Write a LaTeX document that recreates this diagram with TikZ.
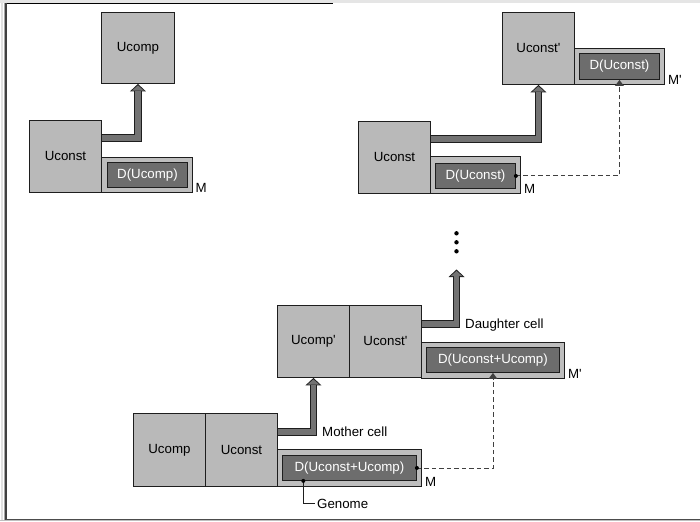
\documentclass[tikz,border=0pt]{standalone}
\usepackage{fontspec}
\setmainfont{Liberation Sans}
\usetikzlibrary{arrows.meta,calc,backgrounds}
\definecolor{cellfill}{HTML}{B9B9B9}
\definecolor{memfill}{HTML}{BEBEBE}
\definecolor{dnafill}{HTML}{6D6D6D}
\definecolor{pipefill}{HTML}{737373}
\definecolor{edge}{HTML}{1E1E1E}
\newcommand{\prm}{\textquotesingle}
\begin{document}
\begin{tikzpicture}[x=1pt,y=-1pt,
  every node/.style={font=\fontsize{13.3}{15}\selectfont},
  box/.style={draw=edge, line width=0.9pt, inner sep=0pt, anchor=north west},
  cell/.style={box, fill=cellfill},
  mem/.style={box, fill=memfill},
  dna/.style={box, fill=dnafill, text=white},
  tag/.style={anchor=base west, inner sep=0pt},
  lbl/.style={anchor=west, inner sep=0pt, text height=9.4pt, text depth=0pt},
  pipeout/.style={draw=edge, line width=7.6pt, line join=miter,
    -{Triangle[length=7.5pt,width=16pt,line width=0pt]}},
  pipein/.style={draw=pipefill, line width=5.6pt, line join=miter, shorten >=1.5pt,
    -{Triangle[length=5.2pt,width=12pt,line width=0pt]}},
  copyline/.style={draw=black!75, line width=0.9pt, dash pattern=on 4.5pt off 3pt,
    -{Triangle[length=6pt,width=9pt,line width=0pt]}},
  dot/.style={circle, fill=black, inner sep=0pt, minimum size=4pt},
  wire/.style={draw=edge, line width=0.8pt},
]
\useasboundingbox (0,0) rectangle (700,521);

% ---------- first scheme: constructor builds the computer ----------
\node[cell, minimum width=73pt, minimum height=71pt] (ucomp1) at (101,12) {Ucomp};
\node[cell, minimum width=72pt, minimum height=72pt] (uconst1) at (29,120) {Uconst};
\node[mem, minimum width=91pt, minimum height=35pt] (mem1) at (101,157) {};
\node[dna, minimum width=80pt, minimum height=25pt] (dna1) at (107,162) {D(Ucomp)};
\node[tag] (m1) at ($(mem1.south east)+(2.5,0)$) {M};

% ---------- second scheme: constructor builds a copy of itself ----------
\node[cell, minimum width=72pt, minimum height=72pt] (uconstp2) at (502,12) {Uconst\prm};
\node[mem, minimum width=90pt, minimum height=36pt] (memp2) at (574,48) {};
\node[dna, minimum width=80pt, minimum height=26pt] (dnap2) at (579,53) {D(Uconst)};
\node[tag] (mp2) at ($(memp2.south east)+(3,0)$) {M\prm};
\node[cell, minimum width=72pt, minimum height=72pt] (uconst2) at (358,121) {Uconst};
\node[mem, minimum width=90pt, minimum height=37pt] (mem2) at (430,156) {};
\node[dna, minimum width=80pt, minimum height=25pt] (dna2) at (435,163) {D(Uconst)};
\node[tag] (m2) at ($(mem2.south east)+(3,0)$) {M};

% ---------- third scheme: self-reproducing cell ----------
\node[cell, minimum width=72pt, minimum height=73pt] (ucomp3) at (133,413) {Ucomp};
\node[cell, minimum width=72pt, minimum height=73pt] (uconst3) at (205,413) {Uconst};
\node[mem, minimum width=144pt, minimum height=37pt] (mem3) at (277,449) {};
\node[dna, minimum width=134pt, minimum height=25pt] (dna3) at (282,455) {D(Uconst+Ucomp)};
\node[tag] (m3) at ($(mem3.south east)+(3,0)$) {M};

\node[cell, minimum width=72pt, minimum height=72pt] (ucompp3) at (277,305) {Ucomp\prm};
\node[cell, minimum width=72pt, minimum height=72pt] (uconstp3) at (349,305) {Uconst\prm};
\node[mem, minimum width=143pt, minimum height=36pt] (memp3) at (421,342) {};
\node[dna, minimum width=133pt, minimum height=25pt] (dnap3) at (426,347) {D(Uconst+Ucomp)};
\node[tag] (mp3) at ($(memp3.south east)+(3,0)$) {M\prm};

\node[lbl] (mother) at (322,431.7) {Mother cell};
\node[lbl] (daughter) at (465,323.7) {Daughter cell};
\node[lbl, inner xsep=2pt] (genome) at (315,503.4) {Genome};

% continuation dots
\coordinate (up3) at (456.5,269.5);
\node[dot, minimum size=4.4pt] (e1) at (456.5,251.3) {};
\node[dot, minimum size=4.4pt] (e2) at (456.5,242.3) {};
\node[dot, minimum size=4.4pt] (e3) at (456.5,233.3) {};

% description copies (dashed)
\draw[copyline] (dna2.east) -| (dnap2.south);
\node[dot, minimum size=4pt] (d2) at (dna2.east) {};
\draw[copyline] (dna3.east) -| (dnap3.south);
\node[dot, minimum size=4pt] (d3) at (dna3.east) {};

% genome pointer
\coordinate (gen) at ($(dna3.south west)+(21.3,0)$);
\draw[wire] (gen) |- (genome.west);
\node[dot, minimum size=4pt] (gdot) at (gen) {};

% ---------- construction pipes and frame, behind the boxes ----------
\begin{scope}[on background layer]
  \fill[white] (0,0) rectangle (700,521);
  \draw[black!10, line width=3pt] (0,1.5) -- (700,1.5);
  \draw[black, line width=1.3pt] (6,3.6) -- (333,3.6);
  \draw[black!12, line width=2pt] (2,3) -- (2,521);
  \draw[black!35, line width=1pt] (4.3,3) -- (4.3,521);
  \draw[black!75, line width=1.5pt] (6,3) -- (6,519.8);
  \draw[black!70, line width=1.5pt] (6,519.3) -- (700,519.3);
  \draw[black!25, line width=1pt] (0,520.6) -- (700,520.6);

  \coordinate (s1) at ($(uconst1.north east)+(0,18)$);
  \draw[pipeout] (s1) -| (ucomp1.south);
  \draw[pipein] (s1) -| (ucomp1.south);

  \coordinate (s2) at ($(uconst2.north east)+(0,18)$);
  \draw[pipeout] (s2) -| (uconstp2.south);
  \draw[pipein] (s2) -| (uconstp2.south);

  \coordinate (s3) at ($(uconst3.north east)+(0,18.7)$);
  \draw[pipeout] (s3) -| (ucompp3.south);
  \draw[pipein] (s3) -| (ucompp3.south);

  \coordinate (s4) at ($(uconstp3.north east)+(0,18.7)$);
  \draw[pipeout] (s4) -| (up3);
  \draw[pipein] (s4) -| (up3);
\end{scope}
\end{tikzpicture}
\end{document}
